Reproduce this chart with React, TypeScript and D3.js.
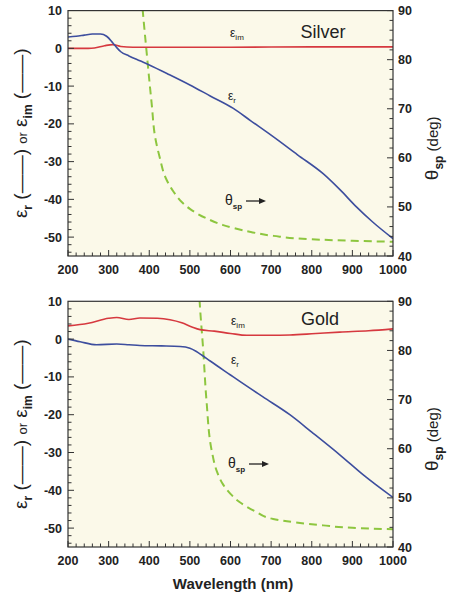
import React from "react";
import * as d3 from "d3";

type P = [number, number];

const xTicks = [200, 300, 400, 500, 600, 700, 800, 900, 1000];
const yLeftTicks = [10, 0, -10, -20, -30, -40, -50];
const yRightTicks = [90, 80, 70, 60, 50, 40];

const silverEr: P[] = [[200,3],[220,3.2],[240,3.5],[260,3.8],[280,3.8],[295,3.2],[310,1.5],[320,0.2],[330,-0.9],[350,-2],[377,-3.3],[400,-4.4],[450,-7],[500,-9.7],[550,-12.6],[607,-15.9],[650,-19.2],[705,-23.4],[765,-28.2],[828,-33.2],[870,-37.5],[910,-42],[950,-46],[1000,-50.4]];
const silverEim: P[] = [[200,0],[250,0],[265,0.1],[290,0.7],[310,1.0],[330,0.5],[360,0.3],[400,0.3],[600,0.3],[800,0.4],[1000,0.4]];
const silverTheta: P[] = [[381,93],[384,90],[393,82],[406,71],[415,64],[426,60],[440,56],[459,53.2],[480,51],[500,49.6],[540,47.7],[582,46.3],[650,44.9],[706,44.1],[800,43.4],[900,43.1],[1000,42.9]];

const goldEr: P[] = [[200,0],[230,-0.7],[270,-1.5],[320,-1.3],[350,-1.5],[377,-1.7],[430,-1.8],[476,-1.95],[500,-2.4],[515,-3.2],[529,-4.2],[550,-5.8],[600,-9.5],[623,-11.2],[680,-15.3],[746,-20],[800,-24.6],[869,-30.6],[930,-36.2],[1000,-41.9]];
const goldEim: P[] = [[200,3.5],[250,4.2],[300,5.5],[320,5.7],[350,5.2],[377,5.6],[420,5.5],[451,5.1],[480,4.3],[505,3.2],[525,2.5],[560,2.1],[600,1.5],[640,1.0],[700,1.0],[746,1.1],[800,1.4],[869,1.85],[940,2.2],[1000,2.7]];
const goldTheta: P[] = [[522,93],[524,90],[533,79.9],[541,69.7],[554,59.5],[566,55.5],[582,52.7],[600,50.8],[623,49.1],[660,47.3],[705,45.7],[760,45],[828,44.4],[900,43.9],[1000,43.6]];

const panels = [
  { name: "Silver", er: silverEr, eim: silverEim, theta: silverTheta, top: 10.6, bottom: 256,
    eimLab: [230, 37], erLab: [228, 100], thLab: [225, 205], nameLab: [323, 38] },
  { name: "Gold", er: goldEr, eim: goldEim, theta: goldTheta, top: 301.3, bottom: 547,
    eimLab: [231, 325], erLab: [231, 364], thLab: [228, 468], nameLab: [320, 325] },
];

const FONT = "'Liberation Sans', Arial, Helvetica, sans-serif";
const BLUE = "#3d4e9e";
const RED = "#d6393f";
const GREEN = "#8dc63f";
const BG = "#fbf9e9";

function Panel({ p, idx }: { p: typeof panels[number]; idx: number }) {
  const x = d3.scaleLinear().domain([200, 1000]).range([68, 393]);
  const yL = d3.scaleLinear().domain([-55, 10]).range([p.bottom, p.top]);
  const yR = d3.scaleLinear().domain([40, 90]).range([p.bottom, p.top]);
  const lineL = d3.line<P>().x(d => x(d[0])).y(d => yL(d[1])).curve(d3.curveMonotoneX);
  const lineR = d3.line<P>().x(d => x(d[0])).y(d => yR(d[1])).curve(d3.curveMonotoneY);
  const clipId = `clip${idx}`;
  const xMinor = d3.range(200, 1001, 20);
  const yLMinor = d3.range(-54, 10, 2);
  const yRMinor = d3.range(40, 91, 2);
  const midY = (p.top + p.bottom) / 2;
  return (
    <g>
      <defs>
        <clipPath id={clipId}>
          <rect x={68} y={p.top} width={325} height={p.bottom - p.top} />
        </clipPath>
      </defs>
      <rect x={68} y={p.top} width={325} height={p.bottom - p.top} fill={BG} />
      <g clipPath={`url(#${clipId})`}>
        <path d={lineR(p.theta) || ""} fill="none" stroke={GREEN} strokeWidth={2} strokeDasharray="8,5" />
        <path d={lineL(p.eim) || ""} fill="none" stroke={RED} strokeWidth={1.6} />
        <path d={lineL(p.er) || ""} fill="none" stroke={BLUE} strokeWidth={1.6} />
      </g>
      <rect x={68} y={p.top} width={325} height={p.bottom - p.top} fill="none" stroke="#333" strokeWidth={1.2} />
      {xMinor.map(v => (
        <line key={"xm" + v} x1={x(v)} x2={x(v)} y1={p.bottom} y2={p.bottom - (v % 100 === 0 ? 6 : 3.5)} stroke="#333" strokeWidth={1} />
      ))}
      {yLMinor.map(v => (
        <line key={"ylm" + v} x1={68} x2={68 + (v % 10 === 0 ? 6 : 3.5)} y1={yL(v)} y2={yL(v)} stroke="#333" strokeWidth={1} />
      ))}
      {yRMinor.map(v => (
        <line key={"yrm" + v} x1={393} x2={393 - (v % 10 === 0 ? 6 : 3.5)} y1={yR(v)} y2={yR(v)} stroke="#333" strokeWidth={1} />
      ))}
      {xTicks.map(v => (
        <text key={"xt" + v} x={x(v)} y={p.bottom + 18} textAnchor="middle" fontSize={12.5} fontWeight="bold" fill="#222" fontFamily={FONT}>{v}</text>
      ))}
      {yLeftTicks.map(v => (
        <text key={"ylt" + v} x={62} y={yL(v) + 4.5} textAnchor="end" fontSize={12.5} fontWeight="bold" fill="#222" fontFamily={FONT}>{v}</text>
      ))}
      {yRightTicks.map(v => (
        <text key={"yrt" + v} x={398} y={yR(v) + 4.5} textAnchor="start" fontSize={12.5} fontWeight="bold" fill="#222" fontFamily={FONT}>{v}</text>
      ))}
      <text x={p.nameLab[0]} y={p.nameLab[1]} textAnchor="middle" fontSize={18} fill="#222" fontFamily={FONT}>{p.name}</text>
      <text x={p.eimLab[0]} y={p.eimLab[1]} fontSize={12} fill="#222" fontFamily={FONT}>ε<tspan fontSize={8} dy={3}>im</tspan></text>
      <text x={p.erLab[0]} y={p.erLab[1]} fontSize={12} fill="#222" fontFamily={FONT}>ε<tspan fontSize={8} dy={3}>r</tspan></text>
      <text x={p.thLab[0]} y={p.thLab[1]} fontSize={14} fill="#222" fontFamily={FONT}>θ<tspan fontSize={8} dy={4} fontWeight="bold">sp</tspan></text>
      <line x1={p.thLab[0] + 21} x2={p.thLab[0] + 37} y1={p.thLab[1] - 4} y2={p.thLab[1] - 4} stroke="#222" strokeWidth={1.3} />
      <path d={`M${p.thLab[0] + 41},${p.thLab[1] - 4} l-7,-3 l0,6 z`} fill="#222" />
      {/* left axis label */}
      <text transform={`translate(27,${midY}) rotate(-90)`} textAnchor="middle" fontSize={19} fill="#222" fontFamily={FONT}>
        ε<tspan fontSize={12} dy={5} fontWeight="bold">r</tspan>
        <tspan dy={-5}> (</tspan><tspan>——</tspan><tspan>) </tspan>
        <tspan fontSize={13}>or</tspan>
        <tspan>  ε</tspan><tspan fontSize={12} dy={5} fontWeight="bold">im</tspan>
        <tspan dy={-5}> (</tspan><tspan>——</tspan><tspan>)</tspan>
      </text>
      {/* right axis label */}
      <text transform={`translate(438,${midY + 15}) rotate(-90)`} textAnchor="middle" fontSize={19} fill="#222" fontFamily={FONT}>
        θ<tspan fontSize={12} dy={5} fontWeight="bold">sp</tspan>
        <tspan dy={-5} fontSize={15}> (deg)</tspan>
      </text>
    </g>
  );
}

export default function App() {
  return (
    <svg width={455} height={599} style={{ position: "absolute", left: 0, top: 0, background: "#fff" }}>
      <rect x={0} y={0} width={455} height={599} fill="#fff" />
      {panels.map((p, i) => <Panel key={p.name} p={p} idx={i} />)}
      <text x={233} y={589} textAnchor="middle" fontSize={15} fontWeight="bold" fill="#222" fontFamily={FONT}>Wavelength (nm)</text>
    </svg>
  );
}
